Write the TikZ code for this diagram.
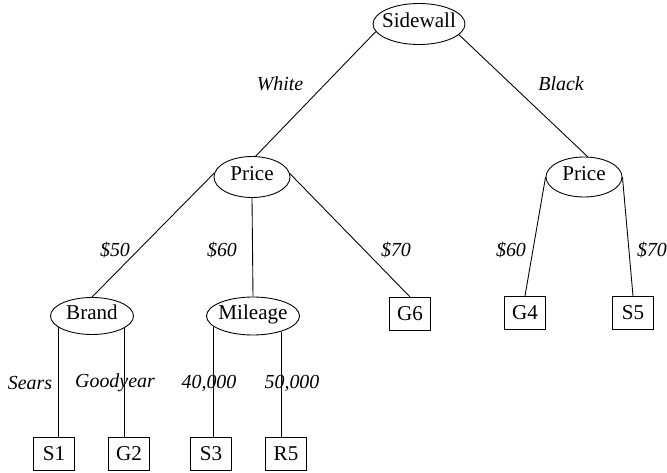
\documentclass[tikz,border=0pt]{standalone}
\usepackage{fontspec}
\setmainfont{Liberation Serif}
\usetikzlibrary{shapes.geometric}

\tikzset{
  treefont/.style={font=\fontsize{18}{21}\selectfont},
  attr/.style={treefont, ellipse, draw, inner xsep=-8pt, inner ysep=0pt,
    text height=1.6ex, text depth=0.3ex},
  leaf/.style={treefont, rectangle, draw, minimum width=1.23cm,
    minimum height=1.0cm, inner sep=1pt},
  branch/.style={font=\fontsize{17}{20}\selectfont\itshape, inner sep=0pt}
}

\begin{document}
\begin{tikzpicture}[x=0.03cm, y=-0.03cm, line width=0.75pt]
  \useasboundingbox (0,0) rectangle (667,473);

  % attribute nodes
  \node[attr, minimum width=2.76cm, minimum height=1.23cm] (Sidewall) at (419,24) {Sidewall};
  \node[attr, minimum width=2.28cm, minimum height=1.23cm] (PriceW) at (252,177) {Price};
  \node[attr, minimum width=2.28cm, minimum height=1.20cm] (PriceB) at (584,177) {Price};
  \node[attr, minimum width=2.49cm, minimum height=1.11cm] (Brand) at (92,316) {Brand};
  \node[attr, minimum width=2.79cm, minimum height=1.14cm] (Mileage) at (253,316) {Mileage};

  % leaves
  \node[leaf] (G6) at (410,314) {G6};
  \node[leaf] (G4) at (525,313) {G4};
  \node[leaf] (S5) at (633,313) {S5};
  \node[leaf] (S1) at (54,454) {S1};
  \node[leaf] (G2) at (129,454) {G2};
  \node[leaf] (S3) at (211,454) {S3};
  \node[leaf] (R5) at (286,454) {R5};

  % branches
  \draw (Sidewall.190) -- (PriceW.80);
  \draw (Sidewall.345) -- (PriceB.80);
  \draw (PriceW.174) -- (Brand.north);
  \draw (PriceW.south) -- (Mileage.north);
  \draw (PriceW.5) -- (G6.north);
  \draw (PriceB.180) -- (G4.north);
  \draw (PriceB.0) -- (S5.north);
  \draw (Brand.198) -- (Brand.198 |- S1.north);
  \draw (Brand.339) -- (Brand.339 |- G2.north);
  \draw (Mileage.195) -- (Mileage.195 |- S3.north);
  \draw (Mileage.331) -- (Mileage.331 |- R5.north);

  % branch labels
  \node[branch] (lWhite) at (280,84) {White};
  \node[branch] (lBlack) at (561,84) {Black};
  \node[branch] (l50) at (115,250) {\$50};
  \node[branch] (l60W) at (222,250) {\$60};
  \node[branch] (l70W) at (396,250) {\$70};
  \node[branch] (l60B) at (511,250) {\$60};
  \node[branch] (l70B) at (652,250) {\$70};
  \node[branch] (lSears) at (30,383) {Sears};
  \node[branch] (lGood) at (115,383) {Goodyear};
  \node[branch] (l40) at (209,383) {40,000};
  \node[branch] (l50k) at (292,383) {50,000};
\end{tikzpicture}
\end{document}
